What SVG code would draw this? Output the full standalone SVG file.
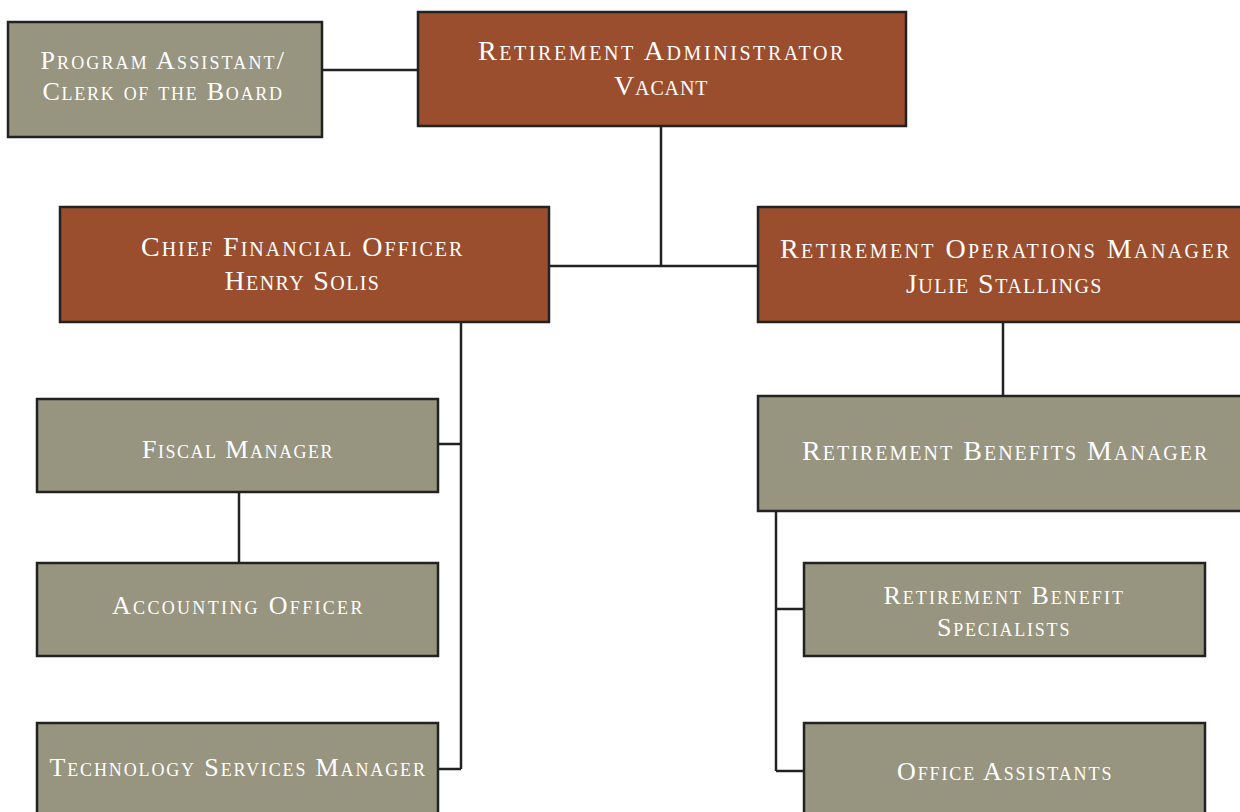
<svg xmlns="http://www.w3.org/2000/svg" width="1240" height="812" viewBox="0 0 1240 812">
<style>
.g{fill:#979480;stroke:#222;stroke-width:2.5}
.b{fill:#9a4e2e;stroke:#222;stroke-width:2.5}
.t{fill:#fff;font-family:"Liberation Serif",serif;font-variant:small-caps;font-size:26px;letter-spacing:1.6px;text-anchor:middle;dominant-baseline:central}
.L{font-size:28px;letter-spacing:2.6px}
.c{fill:none;stroke:#222;stroke-width:2.5}
</style>
<rect width="1240" height="812" fill="#fff"/>
<g id="connectors">
<path class="c" d="M322 70H418"/>
<path class="c" d="M661 126V266M549 266H758"/>
<path class="c" d="M461 322V769M438 444H461M438 769H461"/>
<path class="c" d="M239 492V563"/>
<path class="c" d="M1003 322V396"/>
<path class="c" d="M776 511V771M776 609H804M776 771H804"/>
</g>
<g id="program-assistant"><rect class="g" x="8" y="22" width="314" height="115"/><text class="t" x="163" y="60" textLength="245" lengthAdjust="spacing">Program Assistant/</text><text class="t" x="163" y="91" textLength="241" lengthAdjust="spacing">Clerk of the Board</text></g>
<g id="retirement-administrator"><rect class="b" x="418" y="12" width="488" height="114"/><text class="t L" x="662" y="50" textLength="368" lengthAdjust="spacing">Retirement Administrator</text><text class="t L" x="662" y="85" textLength="96" lengthAdjust="spacing">Vacant</text></g>
<g id="cfo"><rect class="b" x="60" y="207" width="489" height="115"/><text class="t L" x="303" y="246" textLength="324" lengthAdjust="spacing">Chief Financial Officer</text><text class="t L" x="303" y="280" textLength="157" lengthAdjust="spacing">Henry Solis</text></g>
<g id="operations-manager"><rect class="b" x="758" y="207" width="496" height="115"/><text class="t L" x="1006" y="248" textLength="452" lengthAdjust="spacing">Retirement Operations Manager</text><text class="t L" x="1005" y="283" textLength="198" lengthAdjust="spacing">Julie Stallings</text></g>
<g id="fiscal-manager"><rect class="g" x="37" y="399" width="401" height="93"/><text class="t" x="238" y="449" textLength="192" lengthAdjust="spacing">Fiscal Manager</text></g>
<g id="accounting-officer"><rect class="g" x="37" y="563" width="401" height="93"/><text class="t" x="238" y="605" textLength="252" lengthAdjust="spacing">Accounting Officer</text></g>
<g id="technology-services-manager"><rect class="g" x="37" y="723" width="401" height="100"/><text class="t" x="238" y="767" textLength="377" lengthAdjust="spacing">Technology Services Manager</text></g>
<g id="benefits-manager"><rect class="g" x="758" y="396" width="496" height="115"/><text class="t L" x="1006" y="450" textLength="408" lengthAdjust="spacing">Retirement Benefits Manager</text></g>
<g id="benefit-specialists"><rect class="g" x="804" y="563" width="401" height="93"/><text class="t" x="1004" y="595" textLength="241" lengthAdjust="spacing">Retirement Benefit</text><text class="t" x="1004" y="627" textLength="134" lengthAdjust="spacing">Specialists</text></g>
<g id="office-assistants"><rect class="g" x="804" y="723" width="401" height="100"/><text class="t" x="1005" y="771" textLength="216" lengthAdjust="spacing">Office Assistants</text></g>
</svg>
